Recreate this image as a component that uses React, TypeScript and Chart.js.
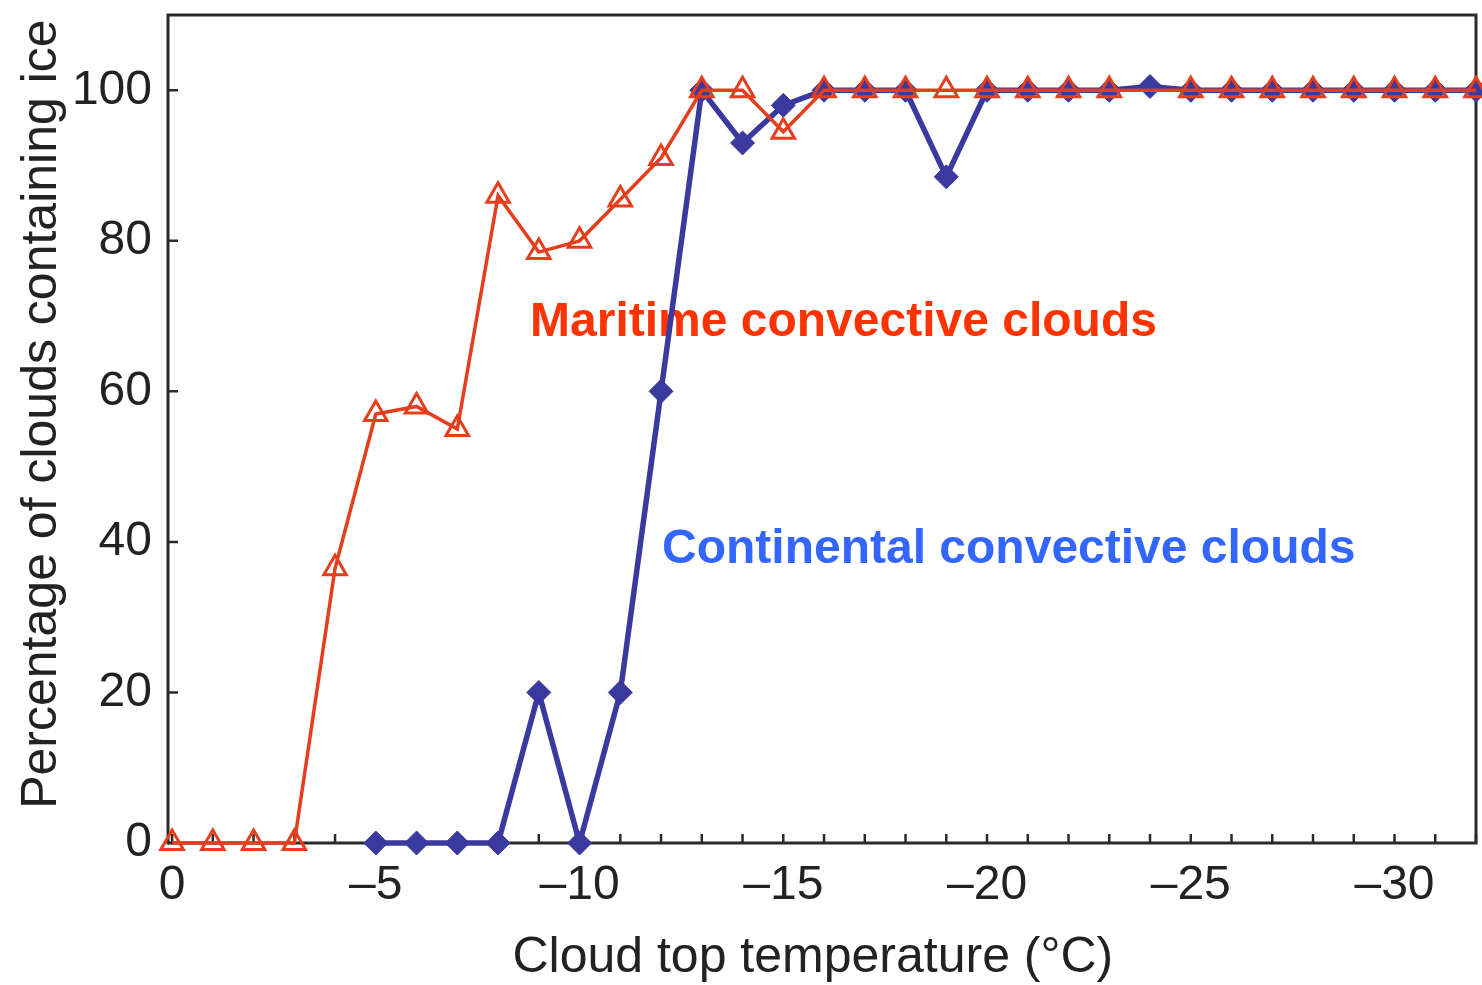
import React, { useEffect, useRef } from 'react';
import { Chart, registerables } from 'chart.js';

Chart.register(...registerables);

// Cloud top temperature (°C)
const maritimeTemps = [0, -1, -2, -3, -4, -5, -6, -7, -8, -9, -10, -11, -12, -13, -14, -15, -16, -17, -18, -19, -20, -21, -22, -23, -25, -26, -27, -28, -29, -30, -31, -32];
const maritimeValues = [0, 0, 0, 0, 36.5, 57, 58, 55, 86, 78.5, 80, 85.5, 91, 100, 100, 94.5, 100, 100, 100, 100, 100, 100, 100, 100, 100, 100, 100, 100, 100, 100, 100, 100];

const continentalTemps = [-5, -6, -7, -8, -9, -10, -11, -12, -13, -14, -15, -16, -17, -18, -19, -20, -21, -22, -23, -24, -25, -26, -27, -28, -29, -30, -31, -32];
const continentalValues = [0, 0, 0, 0, 20, 0, 20, 60, 100, 93, 98, 100, 100, 100, 88.5, 100, 100, 100, 100, 100.5, 100, 100, 100, 100, 100, 100, 100, 100];

const xMajorTicks = [0, -5, -10, -15, -20, -25, -30];
const xMinorTicks = [0, -1, -2, -3, -4, -5, -6, -7, -8, -9, -10, -11, -12, -13, -14, -15, -16, -17, -18, -19, -20, -21, -22, -23, -24, -25, -26, -27, -28, -29, -30, -31, -32];
const yTicks = [0, 20, 40, 60, 80, 100];

const xTitle = 'Cloud top temperature (°C)';
const yTitle = 'Percentage of clouds containing ice';
const maritimeLabel = 'Maritime convective clouds';
const continentalLabel = 'Continental convective clouds';

const FONT = '"Liberation Sans", Arial, Helvetica, sans-serif';
const INK = '#222222';
const RED = '#e63d1c';
const BLUE = '#3a3a9e';

const framePlugin = {
  id: 'frameAndNotes',
  beforeDatasetsDraw(chart: any) {
    const { ctx, chartArea } = chart;
    const xs = chart.scales.x;
    const ys = chart.scales.y;
    ctx.save();
    const w = chartArea.right - chartArea.left;
    const h = chartArea.bottom - chartArea.top;

    // annotations (drawn under the lines)
    ctx.font = `bold 48px ${FONT}`;
    ctx.textBaseline = 'middle';
    ctx.textAlign = 'left';
    ctx.fillStyle = '#ff3300';
    ctx.fillText(maritimeLabel, chartArea.left + w * 0.2768, chartArea.top + h * 0.372);
    ctx.fillStyle = '#3366ff';
    ctx.fillText(continentalLabel, chartArea.left + w * 0.3777, chartArea.top + h * 0.646);

    // axis titles
    ctx.fillStyle = INK;
    ctx.font = `50px ${FONT}`;
    ctx.textAlign = 'center';
    ctx.fillText(xTitle, chartArea.left + w * 0.493, 958);
    ctx.save();
    ctx.translate(42, chartArea.top + h * 0.482);
    ctx.rotate(-Math.PI / 2);
    ctx.fillText(yTitle, 0, 0);
    ctx.restore();

    // frame
    ctx.strokeStyle = '#2a2a2a';
    ctx.lineWidth = 3;
    ctx.strokeRect(chartArea.left, chartArea.top, w, h);
    // inward ticks
    ctx.lineWidth = 2.5;
    ctx.beginPath();
    xMinorTicks.forEach((v) => {
      const px = xs.getPixelForValue(v);
      ctx.moveTo(px, chartArea.bottom);
      ctx.lineTo(px, chartArea.bottom - 9);
    });
    yTicks.forEach((v) => {
      const py = ys.getPixelForValue(v);
      ctx.moveTo(chartArea.left, py);
      ctx.lineTo(chartArea.left + 10, py);
    });
    ctx.stroke();
    ctx.restore();
  },
};

export default function App() {
  const ref = useRef<HTMLCanvasElement>(null);

  useEffect(() => {
    document.body.style.margin = '0';
    const canvas = ref.current;
    if (!canvas) return;
    const chart = new Chart(canvas, {
      type: 'line',
      data: {
        datasets: [
          {
            label: maritimeLabel,
            data: maritimeTemps.map((t, i) => ({ x: t, y: maritimeValues[i] })),
            borderColor: RED,
            borderWidth: 3.5,
            pointStyle: 'triangle',
            pointRadius: 13,
            pointBorderWidth: 3,
            pointBackgroundColor: 'rgba(255,255,255,0)',
            pointBorderColor: RED,
            tension: 0,
            clip: false,
          },
          {
            label: continentalLabel,
            data: continentalTemps.map((t, i) => ({ x: t, y: continentalValues[i] })),
            borderColor: BLUE,
            borderWidth: 5.5,
            pointStyle: 'rectRot',
            pointRadius: 12,
            pointBorderWidth: 1,
            pointBackgroundColor: BLUE,
            pointBorderColor: BLUE,
            tension: 0,
            clip: false,
          },
        ],
      },
      options: {
        responsive: false,
        animation: false,
        layout: { autoPadding: false, padding: { left: 0, top: 15, right: 6, bottom: 0 } },
        plugins: {
          legend: { display: false },
          tooltip: { enabled: false },
        },
        scales: {
          x: {
            type: 'linear',
            reverse: true,
            min: -32,
            max: 0.1,
            afterBuildTicks: (s: any) => {
              s.ticks = xMinorTicks.map((v) => ({ value: v }));
            },
            afterFit: (s: any) => {
              s.height = 142;
              s.paddingLeft = 0;
              s.paddingRight = 0;
            },
            ticks: {
              autoSkip: false,
              maxRotation: 0,
              padding: 14,
              color: INK,
              font: { family: FONT, size: 48 },
              callback: (v: any) => {
                const n = Math.round(Number(v));
                if (!xMajorTicks.includes(n)) return '';
                return n === 0 ? '0' : '\u2013' + Math.abs(n);
              },
            },
            grid: { display: false, drawTicks: false },
            border: { display: false },
            title: { display: false },
          },
          y: {
            type: 'linear',
            min: 0,
            max: 110,
            afterBuildTicks: (s: any) => {
              s.ticks = yTicks.map((v) => ({ value: v }));
            },
            afterFit: (s: any) => {
              s.width = 168;
              s.paddingTop = 0;
              s.paddingBottom = 0;
            },
            ticks: {
              padding: 16,
              color: INK,
              font: { family: FONT, size: 48 },
              callback: (v: any) => String(Math.round(Number(v))),
            },
            grid: { display: false, drawTicks: false },
            border: { display: false },
            title: { display: false },
          },
        },
      },
      plugins: [framePlugin],
    } as any);
    return () => chart.destroy();
  }, []);

  return (
    <div style={{ width: 1482, height: 985, background: '#ffffff' }}>
      <canvas ref={ref} width={1482} height={985} style={{ display: 'block' }} />
    </div>
  );
}
